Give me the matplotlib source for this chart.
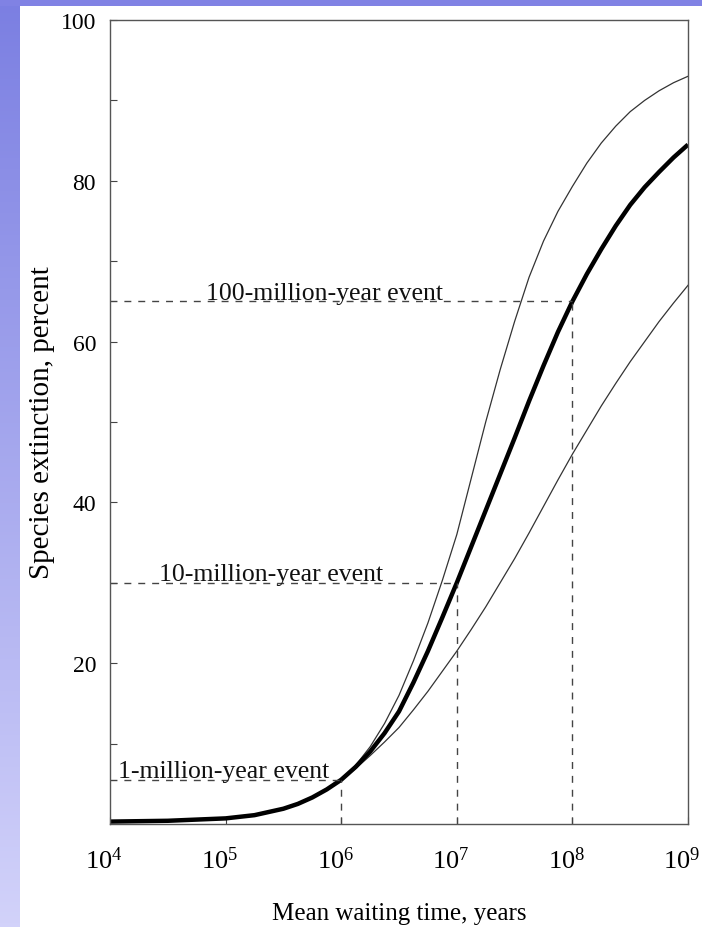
import numpy as np
import matplotlib
matplotlib.use("Agg")
import matplotlib.pyplot as plt
from matplotlib.colors import LinearSegmentedColormap
from matplotlib.transforms import ScaledTranslation

# kill-curve readings (log10 of mean waiting time in years -> percent species killed)
log_t_mid = [4.0, 4.5, 5.0, 5.25, 5.5, 5.625, 5.75, 5.875, 6.0, 6.125, 6.25, 6.375,
             6.5, 6.625, 6.75, 6.875, 7.0, 7.125, 7.25, 7.375, 7.5, 7.625, 7.75,
             7.875, 8.0, 8.125, 8.25, 8.375, 8.5, 8.625, 8.75, 8.875, 9.0]
kill_mid = [0.3, 0.4, 0.7, 1.1, 1.9, 2.5, 3.3, 4.3, 5.5, 7.1, 9.0, 11.3,
            14.0, 17.6, 21.5, 25.7, 30.0, 34.5, 39.0, 43.5, 48.0, 52.6, 57.0,
            61.2, 65.0, 68.4, 71.5, 74.4, 77.0, 79.2, 81.1, 82.9, 84.5]

log_t_band = [5.75, 5.875, 6.0, 6.125, 6.25, 6.375, 6.5, 6.625, 6.75, 6.875, 7.0,
              7.125, 7.25, 7.375, 7.5, 7.625, 7.75, 7.875, 8.0, 8.125, 8.25,
              8.375, 8.5, 8.625, 8.75, 8.875, 9.0]
kill_upper = [3.3, 4.3, 5.5, 7.3, 9.6, 12.5, 16.0, 20.3, 25.0, 30.3, 36.0,
              43.0, 50.0, 56.5, 62.5, 68.0, 72.5, 76.2, 79.3, 82.2, 84.7,
              86.8, 88.6, 90.0, 91.2, 92.2, 93.0]
kill_lower = [3.3, 4.3, 5.5, 6.9, 8.5, 10.2, 12.0, 14.2, 16.5, 19.0, 21.5,
              24.2, 27.0, 30.0, 33.0, 36.2, 39.5, 42.8, 46.0, 49.0, 52.0,
              54.8, 57.5, 60.0, 62.5, 64.8, 67.0]

# reference events
event_time = [1e6, 1e7, 1e8]
event_kill = [5.5, 30.0, 65.0]
event_label = ["1-million-year event", "10-million-year event", "100-million-year event"]
event_text_x = [10**4.07, 10**4.42, 10**4.83]

x_ticks = [1e4, 1e5, 1e6, 1e7, 1e8, 1e9]
x_tick_labels = [r"$10^{4}$", r"$10^{5}$", r"$10^{6}$", r"$10^{7}$", r"$10^{8}$", r"$10^{9}$"]
y_major = [20, 40, 60, 80, 100]
y_minor = [10, 30, 50, 70, 90]

plt.rcParams["font.family"] = ["Liberation Serif", "DejaVu Serif"]
plt.rcParams["mathtext.fontset"] = "custom"
plt.rcParams["mathtext.rm"] = "Liberation Serif"
plt.rcParams["mathtext.it"] = "Liberation Serif"

W, H = 702, 928
fig = plt.figure(figsize=(W / 100, H / 100), dpi=100, facecolor="white")

# slide-style background: blue band on top and gradient strip on the left
bg = fig.add_axes([0, 0, 1, 1], zorder=-10)
bg.set_xlim(0, W)
bg.set_ylim(H, 0)
bg.axis("off")
cmap = LinearSegmentedColormap.from_list("strip", ["#7b7fe2", "#d2d2fa"])
grad = np.linspace(0, 1, 256).reshape(-1, 1)
bg.imshow(grad, cmap=cmap, extent=[0, 20, H, 0], aspect="auto")
bg.add_patch(plt.Rectangle((0, 0), W, 6.5, color="#8082e4", lw=0))

ax = fig.add_axes([110 / W, 1 - 825 / H, (688 - 110) / W, (825 - 21) / H])
ax.set_xscale("log")
ax.set_xlim(1e4, 1e9)
ax.set_ylim(0, 100)

t_mid = [10**v for v in log_t_mid]
t_band = [10**v for v in log_t_band]
ax.plot(t_band, kill_upper, color="#333333", lw=0.9)
ax.plot(t_band, kill_lower, color="#333333", lw=0.9)
ax.plot(t_mid, kill_mid, color="black", lw=3.2, solid_capstyle="butt",
        solid_joinstyle="round")

for t, k, lab, tx in zip(event_time, event_kill, event_label, event_text_x):
    ax.plot([1e4, t], [k, k], color="#444444", lw=1.0, ls=(0, (5, 5)))
    ax.plot([t, t], [0, k], color="#444444", lw=1.0, ls=(0, (5, 5)))
    ax.text(tx, k + 0.3, lab, fontsize=18.5, ha="left", va="baseline", color="#111111")

ax.set_xticks(x_ticks)
ax.set_xticklabels(x_tick_labels, fontsize=19)
ax.minorticks_off()
ax.set_yticks(y_major)
ax.set_yticks(y_minor, minor=True)
ax.set_yticklabels([str(v) for v in y_major], fontsize=17)
ax.tick_params(axis="both", which="both", direction="in", length=5, width=0.8, color="#444444")
ax.tick_params(axis="x", pad=16)
ax.tick_params(axis="y", pad=10)

# superscript sits over the tick, "10" to its left
shift = ScaledTranslation(-6 / 100, 0, fig.dpi_scale_trans)
for lbl in ax.get_xticklabels():
    lbl.set_transform(lbl.get_transform() + shift)

for s in ax.spines.values():
    s.set_linewidth(1.0)
    s.set_color("#555555")

ax.set_xlabel("Mean waiting time, years", fontsize=18, labelpad=21)
ax.set_ylabel("Species extinction, percent", fontsize=21, labelpad=4)

fig.savefig("out.png", dpi=100, facecolor="white")
